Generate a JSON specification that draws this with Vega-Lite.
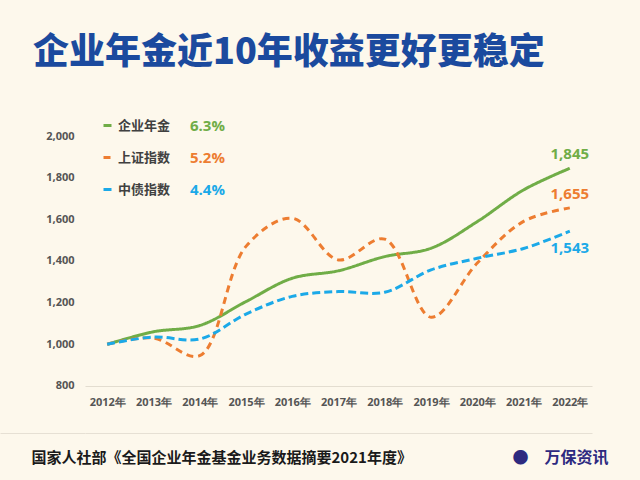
{
  "$schema": "https://vega.github.io/schema/vega-lite/v6.json",
  "width": 507,
  "height": 297,
  "autosize": {"type": "none"},
  "padding": {"left": 85, "top": 136, "right": 48, "bottom": 47},
  "background": "#FDF8EC",
  "title": {
    "text": "企业年金近10年收益更好更稳定",
    "anchor": "start",
    "frame": "group",
    "dx": -52,
    "offset": 46,
    "fontSize": 36,
    "font": "Noto Sans CJK SC",
    "fontWeight": 900,
    "color": "#1B4A9E"
  },
  "config": {"view": {"stroke": null}, "font": "Noto Sans CJK SC"},
  "datasets": {
    "lines": [
      {"year": "2012年", "series": "企业年金", "value": 1000},
      {"year": "2013年", "series": "企业年金", "value": 1060},
      {"year": "2014年", "series": "企业年金", "value": 1090},
      {"year": "2015年", "series": "企业年金", "value": 1205},
      {"year": "2016年", "series": "企业年金", "value": 1317},
      {"year": "2017年", "series": "企业年金", "value": 1353},
      {"year": "2018年", "series": "企业年金", "value": 1421},
      {"year": "2019年", "series": "企业年金", "value": 1461},
      {"year": "2020年", "series": "企业年金", "value": 1589},
      {"year": "2021年", "series": "企业年金", "value": 1741},
      {"year": "2022年", "series": "企业年金", "value": 1845},
      {"year": "2012年", "series": "上证指数", "value": 1000},
      {"year": "2013年", "series": "上证指数", "value": 1030},
      {"year": "2014年", "series": "上证指数", "value": 945},
      {"year": "2015年", "series": "上证指数", "value": 1470},
      {"year": "2016年", "series": "上证指数", "value": 1605},
      {"year": "2017年", "series": "上证指数", "value": 1405},
      {"year": "2018年", "series": "上证指数", "value": 1505},
      {"year": "2019年", "series": "上证指数", "value": 1130},
      {"year": "2020年", "series": "上证指数", "value": 1390},
      {"year": "2021年", "series": "上证指数", "value": 1590},
      {"year": "2022年", "series": "上证指数", "value": 1655},
      {"year": "2012年", "series": "中债指数", "value": 1000},
      {"year": "2013年", "series": "中债指数", "value": 1035},
      {"year": "2014年", "series": "中债指数", "value": 1025},
      {"year": "2015年", "series": "中债指数", "value": 1145},
      {"year": "2016年", "series": "中债指数", "value": 1230},
      {"year": "2017年", "series": "中债指数", "value": 1253},
      {"year": "2018年", "series": "中债指数", "value": 1250},
      {"year": "2019年", "series": "中债指数", "value": 1357},
      {"year": "2020年", "series": "中债指数", "value": 1413},
      {"year": "2021年", "series": "中债指数", "value": 1460},
      {"year": "2022年", "series": "中债指数", "value": 1543}
    ],
    "rates": [
      {"series": "企业年金", "rate": "6.3%"},
      {"series": "上证指数", "rate": "5.2%"},
      {"series": "中债指数", "rate": "4.4%"}
    ]
  },
  "layer": [
    {
      "data": {"name": "lines"},
      "mark": {"type": "line", "interpolate": "catmull-rom", "strokeWidth": 3, "strokeCap": "butt"},
      "encoding": {
        "x": {
          "field": "year",
          "type": "ordinal",
          "scale": {"type": "point", "padding": 0.48},
          "axis": {
            "offset": -47,
            "labelAngle": 0,
            "ticks": false,
            "domainColor": "#E3DDD0",
            "domainWidth": 1,
            "labelFont": "Open Sans",
            "labelFontSize": 11,
            "labelFontWeight": "bold",
            "labelColor": "#555555",
            "labelPadding": 10,
            "title": "国家人社部《全国企业年金基金业务数据摘要2021年度》",
            "titleX": -54,
            "titleY": 71,
            "titleAlign": "left",
            "titleBaseline": "middle",
            "titleFont": "Noto Sans CJK SC",
            "titleFontSize": 15,
            "titleFontWeight": "bold",
            "titleColor": "#1A1A1A"
          }
        },
        "y": {
          "field": "value",
          "type": "quantitative",
          "scale": {"domain": [574, 2000], "nice": false, "zero": false},
          "axis": {
            "values": [574, 800, 1000, 1200, 1400, 1600, 1800, 2000],
            "labelExpr": "datum.value < 700 ? '' : format(datum.value, ',d')",
            "domain": false,
            "ticks": true,
            "tickSize": 85,
            "tickWidth": 1,
            "tickColor": {"condition": {"test": "datum.value < 700", "value": "#E6E0D4"}, "value": "transparent"},
            "grid": true,
            "gridWidth": 1,
            "gridColor": {"condition": {"test": "datum.value < 700", "value": "#E6E0D4"}, "value": "transparent"},
            "labelFont": "Open Sans",
            "labelFontSize": 11,
            "labelFontWeight": "bold",
            "labelColor": "#555555",
            "labelPadding": -74,
            "title": "●　万保资讯",
            "titleAngle": 0,
            "titleX": 427,
            "titleY": 321,
            "titleAlign": "left",
            "titleBaseline": "middle",
            "titleFont": "Noto Sans CJK SC",
            "titleFontSize": 16,
            "titleFontWeight": "bold",
            "titleColor": "#2D2A80"
          }
        },
        "color": {
          "field": "series",
          "type": "nominal",
          "scale": {"domain": ["企业年金", "上证指数", "中债指数"], "range": ["#70AD47", "#ED7D31", "#1BA9E8"]},
          "legend": {
            "orient": "none",
            "legendX": 16,
            "legendY": -17,
            "direction": "vertical",
            "title": null,
            "symbolType": "stroke",
            "symbolSize": 64,
            "symbolStrokeWidth": 3,
            "labelFont": "Noto Sans CJK SC",
            "labelFontSize": 13,
            "labelFontWeight": "bold",
            "labelColor": "#404040",
            "labelOffset": 4,
            "rowPadding": 18,
            "padding": 0
          }
        },
        "strokeDash": {
          "field": "series",
          "type": "nominal",
          "scale": {"domain": ["企业年金", "上证指数", "中债指数"], "range": [[1, 0], [7, 5], [8, 4]]},
          "legend": {
            "orient": "none",
            "legendX": 16,
            "legendY": -17,
            "direction": "vertical",
            "title": null,
            "symbolType": "stroke",
            "symbolSize": 64,
            "symbolStrokeWidth": 3,
            "labelFont": "Noto Sans CJK SC",
            "labelFontSize": 13,
            "labelFontWeight": "bold",
            "labelColor": "#404040",
            "labelOffset": 4,
            "rowPadding": 18,
            "padding": 0
          }
        }
      }
    },
    {
      "data": {"name": "rates"},
      "mark": {"type": "point", "opacity": 0},
      "encoding": {
        "shape": {
          "field": "rate",
          "type": "nominal",
          "scale": {"domain": ["6.3%", "5.2%", "4.4%"]},
          "legend": {
            "orient": "none",
            "legendX": 90,
            "legendY": -18,
            "direction": "vertical",
            "title": null,
            "symbolSize": 0,
            "symbolOpacity": 0,
            "labelOffset": 0,
            "labelFont": "Open Sans",
            "labelFontSize": 15,
            "labelFontWeight": "bold",
            "labelColor": {"expr": "datum.value === '6.3%' ? '#70AD47' : datum.value === '5.2%' ? '#ED7D31' : '#1BA9E8'"},
            "rowPadding": 16,
            "padding": 0
          }
        }
      }
    },
    {
      "data": {"name": "lines"},
      "transform": [{"filter": "datum.year === '2022年' && datum.series !== '中债指数'"}],
      "mark": {"type": "text", "dy": -14, "font": "Open Sans", "fontSize": 15, "fontWeight": "bold"},
      "encoding": {
        "x": {"field": "year", "type": "ordinal"},
        "y": {"field": "value", "type": "quantitative"},
        "text": {"field": "value", "type": "quantitative", "format": ",d"},
        "color": {"field": "series", "type": "nominal", "legend": null}
      }
    },
    {
      "data": {"name": "lines"},
      "transform": [{"filter": "datum.year === '2022年' && datum.series === '中债指数'"}],
      "mark": {"type": "text", "dy": 17, "font": "Open Sans", "fontSize": 15, "fontWeight": "bold"},
      "encoding": {
        "x": {"field": "year", "type": "ordinal"},
        "y": {"field": "value", "type": "quantitative"},
        "text": {"field": "value", "type": "quantitative", "format": ",d"},
        "color": {"field": "series", "type": "nominal", "legend": null}
      }
    }
  ]
}
